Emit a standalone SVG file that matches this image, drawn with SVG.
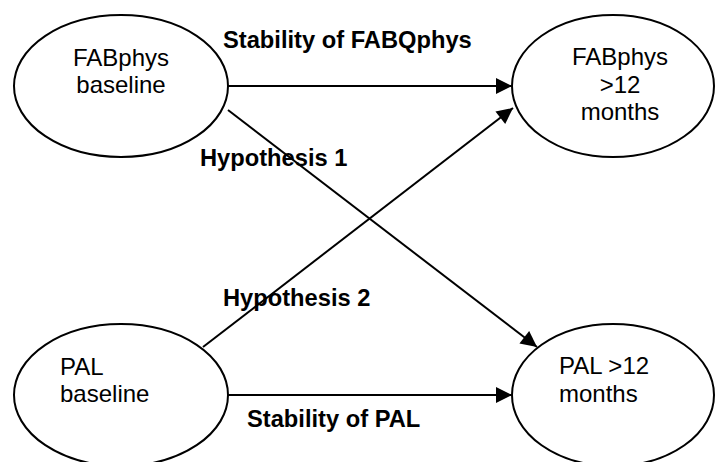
<svg xmlns="http://www.w3.org/2000/svg" width="715" height="462" viewBox="0 0 715 462">
<style>
.node{fill:#fff;stroke:#000;stroke-width:2}
.t{font-family:"Liberation Sans",Arial,sans-serif;font-size:24px;fill:#000}
.b{font-family:"Liberation Sans",Arial,sans-serif;font-size:23.7px;font-weight:bold;fill:#000}
.c{fill:none;stroke:#000;stroke-width:2}
</style>
<defs>
<marker id="ah" markerUnits="userSpaceOnUse" markerWidth="17" markerHeight="16" refX="16" refY="8" orient="auto" overflow="visible">
<path d="M0,0 L16,8 L0,16 z" fill="#000"/>
</marker>
</defs>
<rect width="715" height="462" fill="#fff"/>
<g id="n1">
<ellipse class="node" cx="121" cy="86" rx="107" ry="71"/>
<text class="t" x="121" y="66" text-anchor="middle">FABphys</text>
<text class="t" x="121" y="93" text-anchor="middle">baseline</text>
</g>
<g id="n2">
<ellipse class="node" cx="613" cy="86" rx="101" ry="71"/>
<text class="t" x="620" y="65" text-anchor="middle">FABphys</text>
<text class="t" x="620" y="93" text-anchor="middle">&gt;12</text>
<text class="t" x="620" y="120" text-anchor="middle">months</text>
</g>
<g id="n3">
<ellipse class="node" cx="121" cy="395" rx="107" ry="71"/>
<text class="t" x="60" y="375">PAL</text>
<text class="t" x="60" y="402">baseline</text>
</g>
<g id="n4">
<ellipse class="node" cx="613" cy="395" rx="101" ry="71"/>
<text class="t" x="559" y="374">PAL &gt;12</text>
<text class="t" x="559" y="402">months</text>
</g>
<g id="connectors">
<line class="c" x1="228" y1="86" x2="512" y2="86" marker-end="url(#ah)"/>
<line class="c" x1="228" y1="395" x2="512" y2="395" marker-end="url(#ah)"/>
<line class="c" x1="228" y1="110" x2="537" y2="347" marker-end="url(#ah)"/>
<line class="c" x1="203" y1="347" x2="513" y2="108" marker-end="url(#ah)"/>
</g>
<g id="labels">
<text class="b" x="223" y="48">Stability of FABQphys</text>
<text class="b" x="200" y="166">Hypothesis 1</text>
<text class="b" x="223" y="306">Hypothesis 2</text>
<text class="b" x="247" y="427">Stability of PAL</text>
</g>
</svg>
